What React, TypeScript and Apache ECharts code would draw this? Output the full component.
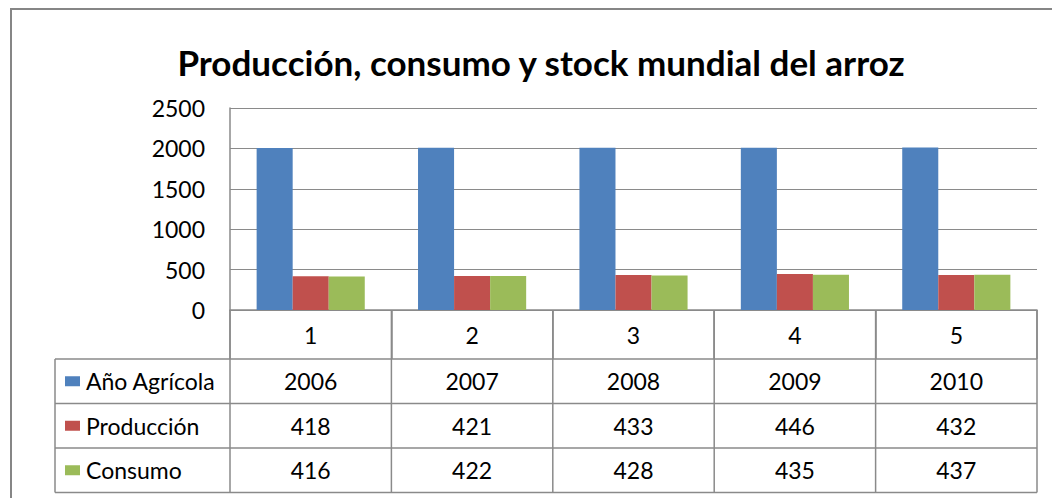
import React, { useEffect, useRef } from "react";
import * as echarts from "echarts";

const categories = ["1", "2", "3", "4", "5"];
const seriesNames = ["Año Agrícola", "Producción", "Consumo"];
const anoAgricola = [2006, 2007, 2008, 2009, 2010];
const produccion = [418, 421, 433, 446, 432];
const consumo = [416, 422, 428, 435, 437];
const seriesColors = ["#4F81BD", "#C0504D", "#9BBB59"];
const yMin = 0;
const yMax = 2500;
const yInterval = 500;
const titleText = "Producción, consumo y stock mundial del arroz";

const FONT = "Lato, 'Open Sans', sans-serif";
const LINE = "#8a8a8a";
const FS = 23;

export default function App() {
  const ref = useRef<HTMLDivElement>(null);
  useEffect(() => {
    if (!ref.current) return;
    const chart = echarts.init(ref.current, null, { renderer: "svg" });
    const rows = [anoAgricola, produccion, consumo];
    chart.setOption({
      animation: false,
      backgroundColor: "#ffffff",
      textStyle: { fontFamily: FONT },
      title: {
        text: titleText,
        left: 536,
        textAlign: "center",
        top: 39,
        textStyle: { fontFamily: FONT, fontWeight: "bold", fontSize: 35, color: "#000" },
      },
      grid: { left: 230, right: 15, top: 108, bottom: 188, containLabel: false },
      xAxis: {
        type: "category",
        data: categories,
        axisLine: { lineStyle: { color: LINE, width: 1.5 } },
        axisTick: { show: true, length: 49, alignWithLabel: false, lineStyle: { color: LINE, width: 1.5 } },
        axisLabel: { color: "#000", fontSize: FS, fontFamily: FONT, margin: 13 },
      },
      yAxis: {
        type: "value",
        min: yMin,
        max: yMax,
        interval: yInterval,
        axisLine: { show: true, lineStyle: { color: LINE, width: 1.5 } },
        axisTick: { show: false },
        axisLabel: {
          color: "#000",
          fontSize: FS,
          fontFamily: FONT,
          margin: 25,
          formatter: (v: number) => String(v),
        },
        splitLine: { lineStyle: { color: LINE, width: 1.2 } },
      },
      series: rows.map((d, i) => ({
        name: seriesNames[i],
        type: "bar",
        data: d,
        barGap: "0%",
        barCategoryGap: "33%",
        itemStyle: { color: seriesColors[i] },
      })),
    });

    const xc = categories.map((_, i) => chart.convertToPixel({ xAxisIndex: 0 }, i) as number);
    const band = xc[1] - xc[0];
    const bounds = [xc[0] - band / 2, ...xc.map((c) => c + band / 2)];
    const y0 = chart.convertToPixel({ yAxisIndex: 0 }, 0) as number;
    const headerH = 49;
    const rowH = 44.5;
    const tableLeft = 55;
    const right = bounds[bounds.length - 1];
    const rowTops = rows.map((_, i) => y0 + headerH + i * rowH);
    const tableBottom = y0 + headerH + rows.length * rowH;

    const g: any[] = [];
    g.push({
      type: "rect",
      shape: { x: 11, y: 9, width: 1200, height: 700 },
      style: { fill: "none", stroke: "#868686", lineWidth: 2 },
      silent: true,
    });
    [...rowTops, tableBottom].forEach((y) =>
      g.push({
        type: "line",
        shape: { x1: tableLeft, y1: y, x2: right, y2: y },
        style: { stroke: LINE, lineWidth: 1.5 },
      })
    );
    g.push({
      type: "line",
      shape: { x1: tableLeft, y1: rowTops[0], x2: tableLeft, y2: tableBottom },
      style: { stroke: LINE, lineWidth: 1.5 },
    });
    bounds.forEach((x) =>
      g.push({
        type: "line",
        shape: { x1: x, y1: y0, x2: x, y2: tableBottom },
        style: { stroke: LINE, lineWidth: 1.5 },
      })
    );
    rows.forEach((d, r) => {
      const cy = rowTops[r] + rowH / 2;
      g.push({
        type: "rect",
        shape: { x: 65, y: cy - 5, width: 15, height: 10 },
        style: { fill: seriesColors[r] },
      });
      g.push({
        type: "text",
        x: 86,
        y: cy,
        style: {
          text: seriesNames[r],
          font: `${FS}px ${FONT}`,
          fill: "#000",
          textAlign: "left",
          textVerticalAlign: "middle",
        },
      });
      d.forEach((v, i) =>
        g.push({
          type: "text",
          x: xc[i],
          y: cy,
          style: {
            text: String(v),
            font: `${FS}px ${FONT}`,
            fill: "#000",
            textAlign: "center",
            textVerticalAlign: "middle",
          },
        })
      );
    });
    chart.setOption({ graphic: g });
    return () => chart.dispose();
  }, []);
  return (
    <div
      ref={ref}
      style={{ position: "fixed", left: 0, top: 0, width: 1052, height: 498 }}
    />
  );
}
